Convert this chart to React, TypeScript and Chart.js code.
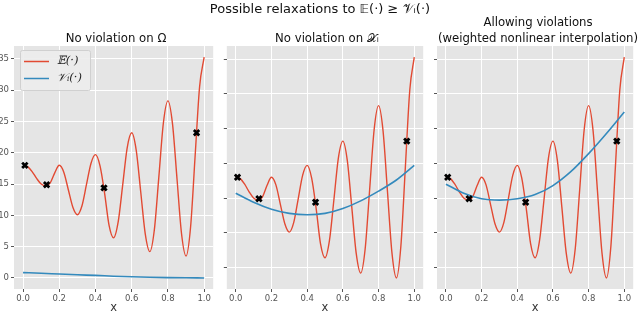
import React, { useEffect, useRef } from "react";
import { Chart, registerables } from "chart.js";

Chart.register(...registerables);

// ---------- data ----------
const X_E = [
  0, 0.025, 0.05, 0.075, 0.1, 0.125, 0.15, 0.175, 0.2, 0.225, 0.25, 0.275, 0.3, 0.325, 0.35, 0.375, 0.4,
  0.425, 0.45, 0.475, 0.5, 0.525, 0.55, 0.575, 0.6, 0.625, 0.65, 0.675, 0.7, 0.725, 0.75, 0.775, 0.8,
  0.825, 0.85, 0.875, 0.9, 0.925, 0.95, 0.975, 1.0,
];
const E_VALUES = [
  18.0, 17.8, 17.0, 15.9, 15.0, 14.7, 15.2, 16.8, 18.0, 16.9, 14.1, 11.3, 10.1, 11.5, 14.9, 18.3, 19.7,
  17.9, 13.6, 8.4, 6.4, 8.9, 14.8, 20.8, 23.2, 20.4, 13.7, 7.0, 4.2, 7.7, 16.2, 24.8, 28.3,
  24.7, 15.9, 7.1, 3.5, 8.1, 19.4, 30.6, 35.3,
];
const X_V = [0, 0.1, 0.2, 0.3, 0.4, 0.5, 0.6, 0.7, 0.8, 0.9, 1.0];
const V_OMEGA = [0.85, 0.75, 0.62, 0.5, 0.4, 0.28, 0.18, 0.1, 0.05, 0.02, 0.0];
const V_XI = [15.7, 14.4, 13.4, 12.8, 12.6, 12.8, 13.5, 14.6, 16.0, 17.6, 19.7];
const V_WEIGHTED = [17.0, 15.7, 14.9, 14.7, 14.9, 15.5, 16.8, 18.8, 21.4, 24.3, 27.4];
const MARK_X = [0.01, 0.13, 0.447, 0.958];
const MARK_Y = [18.0, 14.9, 14.4, 23.2];
const X_TICKS = [0, 0.2, 0.4, 0.6, 0.8, 1.0];
const Y_TICKS = [0, 5, 10, 15, 20, 25, 30, 35];

const SUPTITLE = "Possible relaxations to 𝔼(·) ≥ 𝒱ᵢ(·)";
const PANEL_TITLES = [["No violation on Ω"], ["No violation on 𝒳ᵢ"], ["Allowing violations", "(weighted nonlinear interpolation)"]];
const LEGEND_LABELS = ["𝔼(·)", "𝒱ᵢ(·)"];
const X_LABEL = "x";

const RED = "#E24A33";
const BLUE = "#348ABD";
const FONT = '"DejaVu Sans", sans-serif';

const toPts = (xs: number[], ys: number[]) => xs.map((x, i) => ({ x, y: ys[i] }));

const bgPlugin = {
  id: "bgArea",
  beforeDraw(chart: any) {
    const { ctx, chartArea } = chart;
    const { left, top, right, bottom } = chartArea;
    ctx.save();
    ctx.fillStyle = "#E5E5E5";
    ctx.fillRect(left, top, right - left, bottom - top);
    ctx.restore();
  },
};

const legendPlugin = {
  id: "inLegend",
  afterDraw(chart: any, _args: any, opts: any) {
    if (!opts || !opts.show) return;
    const { ctx, chartArea } = chart;
    const x0 = chartArea.left + 6;
    const y0 = chartArea.top + 4;
    const w = 70;
    const h = 40;
    ctx.save();
    ctx.fillStyle = "rgba(236,236,236,0.9)";
    ctx.strokeStyle = "#D0D0D0";
    ctx.lineWidth = 1;
    ctx.beginPath();
    if (ctx.roundRect) ctx.roundRect(x0 + 0.5, y0 + 0.5, w, h, 2);
    else ctx.rect(x0 + 0.5, y0 + 0.5, w, h);
    ctx.fill();
    ctx.stroke();
    const rows = [
      { color: RED, label: LEGEND_LABELS[0], y: y0 + 11.5 },
      { color: BLUE, label: LEGEND_LABELS[1], y: y0 + 28.5 },
    ];
    rows.forEach((r) => {
      ctx.strokeStyle = r.color;
      ctx.lineWidth = 1.5;
      ctx.beginPath();
      ctx.moveTo(x0 + 4, r.y);
      ctx.lineTo(x0 + 29, r.y);
      ctx.stroke();
      ctx.fillStyle = "#222";
      ctx.font = 'italic 11.5px "DejaVu Serif", serif';
      ctx.textBaseline = "middle";
      ctx.textAlign = "left";
      ctx.fillText(r.label, x0 + 37, r.y);
    });
    ctx.restore();
  },
};

type PanelProps = {
  left: number;
  width: number;
  vValues: number[];
  yMin: number;
  yMax: number;
  yAxisWidth: number;
  rightPad: number;
  showYLabels: boolean;
  showLegend: boolean;
};

function Panel(p: PanelProps) {
  const ref = useRef<HTMLCanvasElement | null>(null);
  useEffect(() => {
    if (!ref.current) return;
    const chart = new Chart(ref.current, {
      type: "line",
      data: {
        datasets: [
          {
            label: "markers",
            data: toPts(MARK_X, MARK_Y),
            showLine: false,
            pointStyle: "crossRot",
            pointRadius: 3.8,
            pointBorderWidth: 2.8,
            pointBorderColor: "#000",
            pointBackgroundColor: "#000",
            order: 0,
          },
          {
            label: "V",
            data: toPts(X_V, p.vValues),
            borderColor: BLUE,
            borderWidth: 1.6,
            pointRadius: 0,
            cubicInterpolationMode: "monotone",
            order: 1,
          },
          {
            label: "E",
            data: toPts(X_E, E_VALUES),
            borderColor: RED,
            borderWidth: 1.4,
            pointRadius: 0,
            cubicInterpolationMode: "monotone",
            order: 2,
          },
        ],
      } as any,
      options: {
        responsive: false,
        animation: false,
        events: [],
        layout: { padding: { left: 0, right: p.rightPad, top: 46, bottom: 0 } },
        plugins: {
          legend: { display: false },
          title: { display: false },
          tooltip: { enabled: false },
          inLegend: { show: p.showLegend },
        } as any,
        scales: {
          x: {
            type: "linear",
            min: -0.05,
            max: 1.05,
            afterBuildTicks: (s: any) => {
              s.ticks = X_TICKS.map((v) => ({ value: v }));
            },
            afterFit: (s: any) => {
              s.height = 25;
            },
            ticks: {
              autoSkip: false,
              maxRotation: 0,
              padding: 2,
              color: "#555",
              font: { family: FONT, size: 8.5 },
              callback: (v: any) => Number(v).toFixed(1),
            },
            grid: { color: "#FFFFFF", lineWidth: 1, tickLength: 3, tickColor: "#555", drawTicks: true },
            border: { display: false },
            title: {
              display: true,
              text: X_LABEL,
              color: "#333",
              padding: 0,
              font: { family: FONT, size: 11.5, lineHeight: 1 },
            },
          },
          y: {
            type: "linear",
            min: p.yMin,
            max: p.yMax,
            afterBuildTicks: (s: any) => {
              s.ticks = Y_TICKS.filter((v) => v >= p.yMin && v <= p.yMax).map((v) => ({ value: v }));
            },
            afterFit: (s: any) => {
              s.width = p.yAxisWidth;
            },
            ticks: {
              display: p.showYLabels,
              padding: 2,
              color: "#555",
              font: { family: FONT, size: 8.5 },
            },
            grid: { color: "#FFFFFF", lineWidth: 1, tickLength: 3, tickColor: "#555", drawTicks: true },
            border: { display: false },
          },
        },
      } as any,
      plugins: [bgPlugin, legendPlugin],
    });
    return () => chart.destroy();
  }, []);
  return (
    <canvas
      ref={ref}
      width={p.width}
      height={314}
      style={{ position: "absolute", left: p.left, top: 0, width: p.width, height: 314, display: "block" }}
    />
  );
}

const titleStyle = (cx: number, cy: number, size: number): React.CSSProperties => ({
  position: "absolute",
  left: cx,
  top: cy,
  transform: "translate(-50%, -50%)",
  whiteSpace: "nowrap",
  fontSize: size,
  lineHeight: 1,
  color: "#111",
  fontFamily: FONT,
});

export default function App() {
  return (
    <div style={{ position: "absolute", left: 0, top: 0, width: 640, height: 314, background: "#fff", overflow: "hidden" }}>
      <Panel left={0} width={220} vValues={V_OMEGA} yMin={-1.77} yMax={37.07} yAxisWidth={14} rightPad={4} showYLabels={true} showLegend={true} />
      <Panel left={220} width={210} vValues={V_XI} yMin={1.91} yMax={36.89} yAxisWidth={6} rightPad={3} showYLabels={false} showLegend={false} />
      <Panel left={430} width={210} vValues={V_WEIGHTED} yMin={1.91} yMax={36.89} yAxisWidth={7} rightPad={1} showYLabels={false} showLegend={false} />
      <div style={titleStyle(320, 8, 13)}>{SUPTITLE}</div>
      <div style={titleStyle(116, 39, 11.7)}>{PANEL_TITLES[0][0]}</div>
      <div style={titleStyle(327, 39, 11.7)}>{PANEL_TITLES[1][0]}</div>
      <div style={titleStyle(538, 23, 11.7)}>{PANEL_TITLES[2][0]}</div>
      <div style={titleStyle(538, 39, 11.7)}>{PANEL_TITLES[2][1]}</div>
    </div>
  );
}
